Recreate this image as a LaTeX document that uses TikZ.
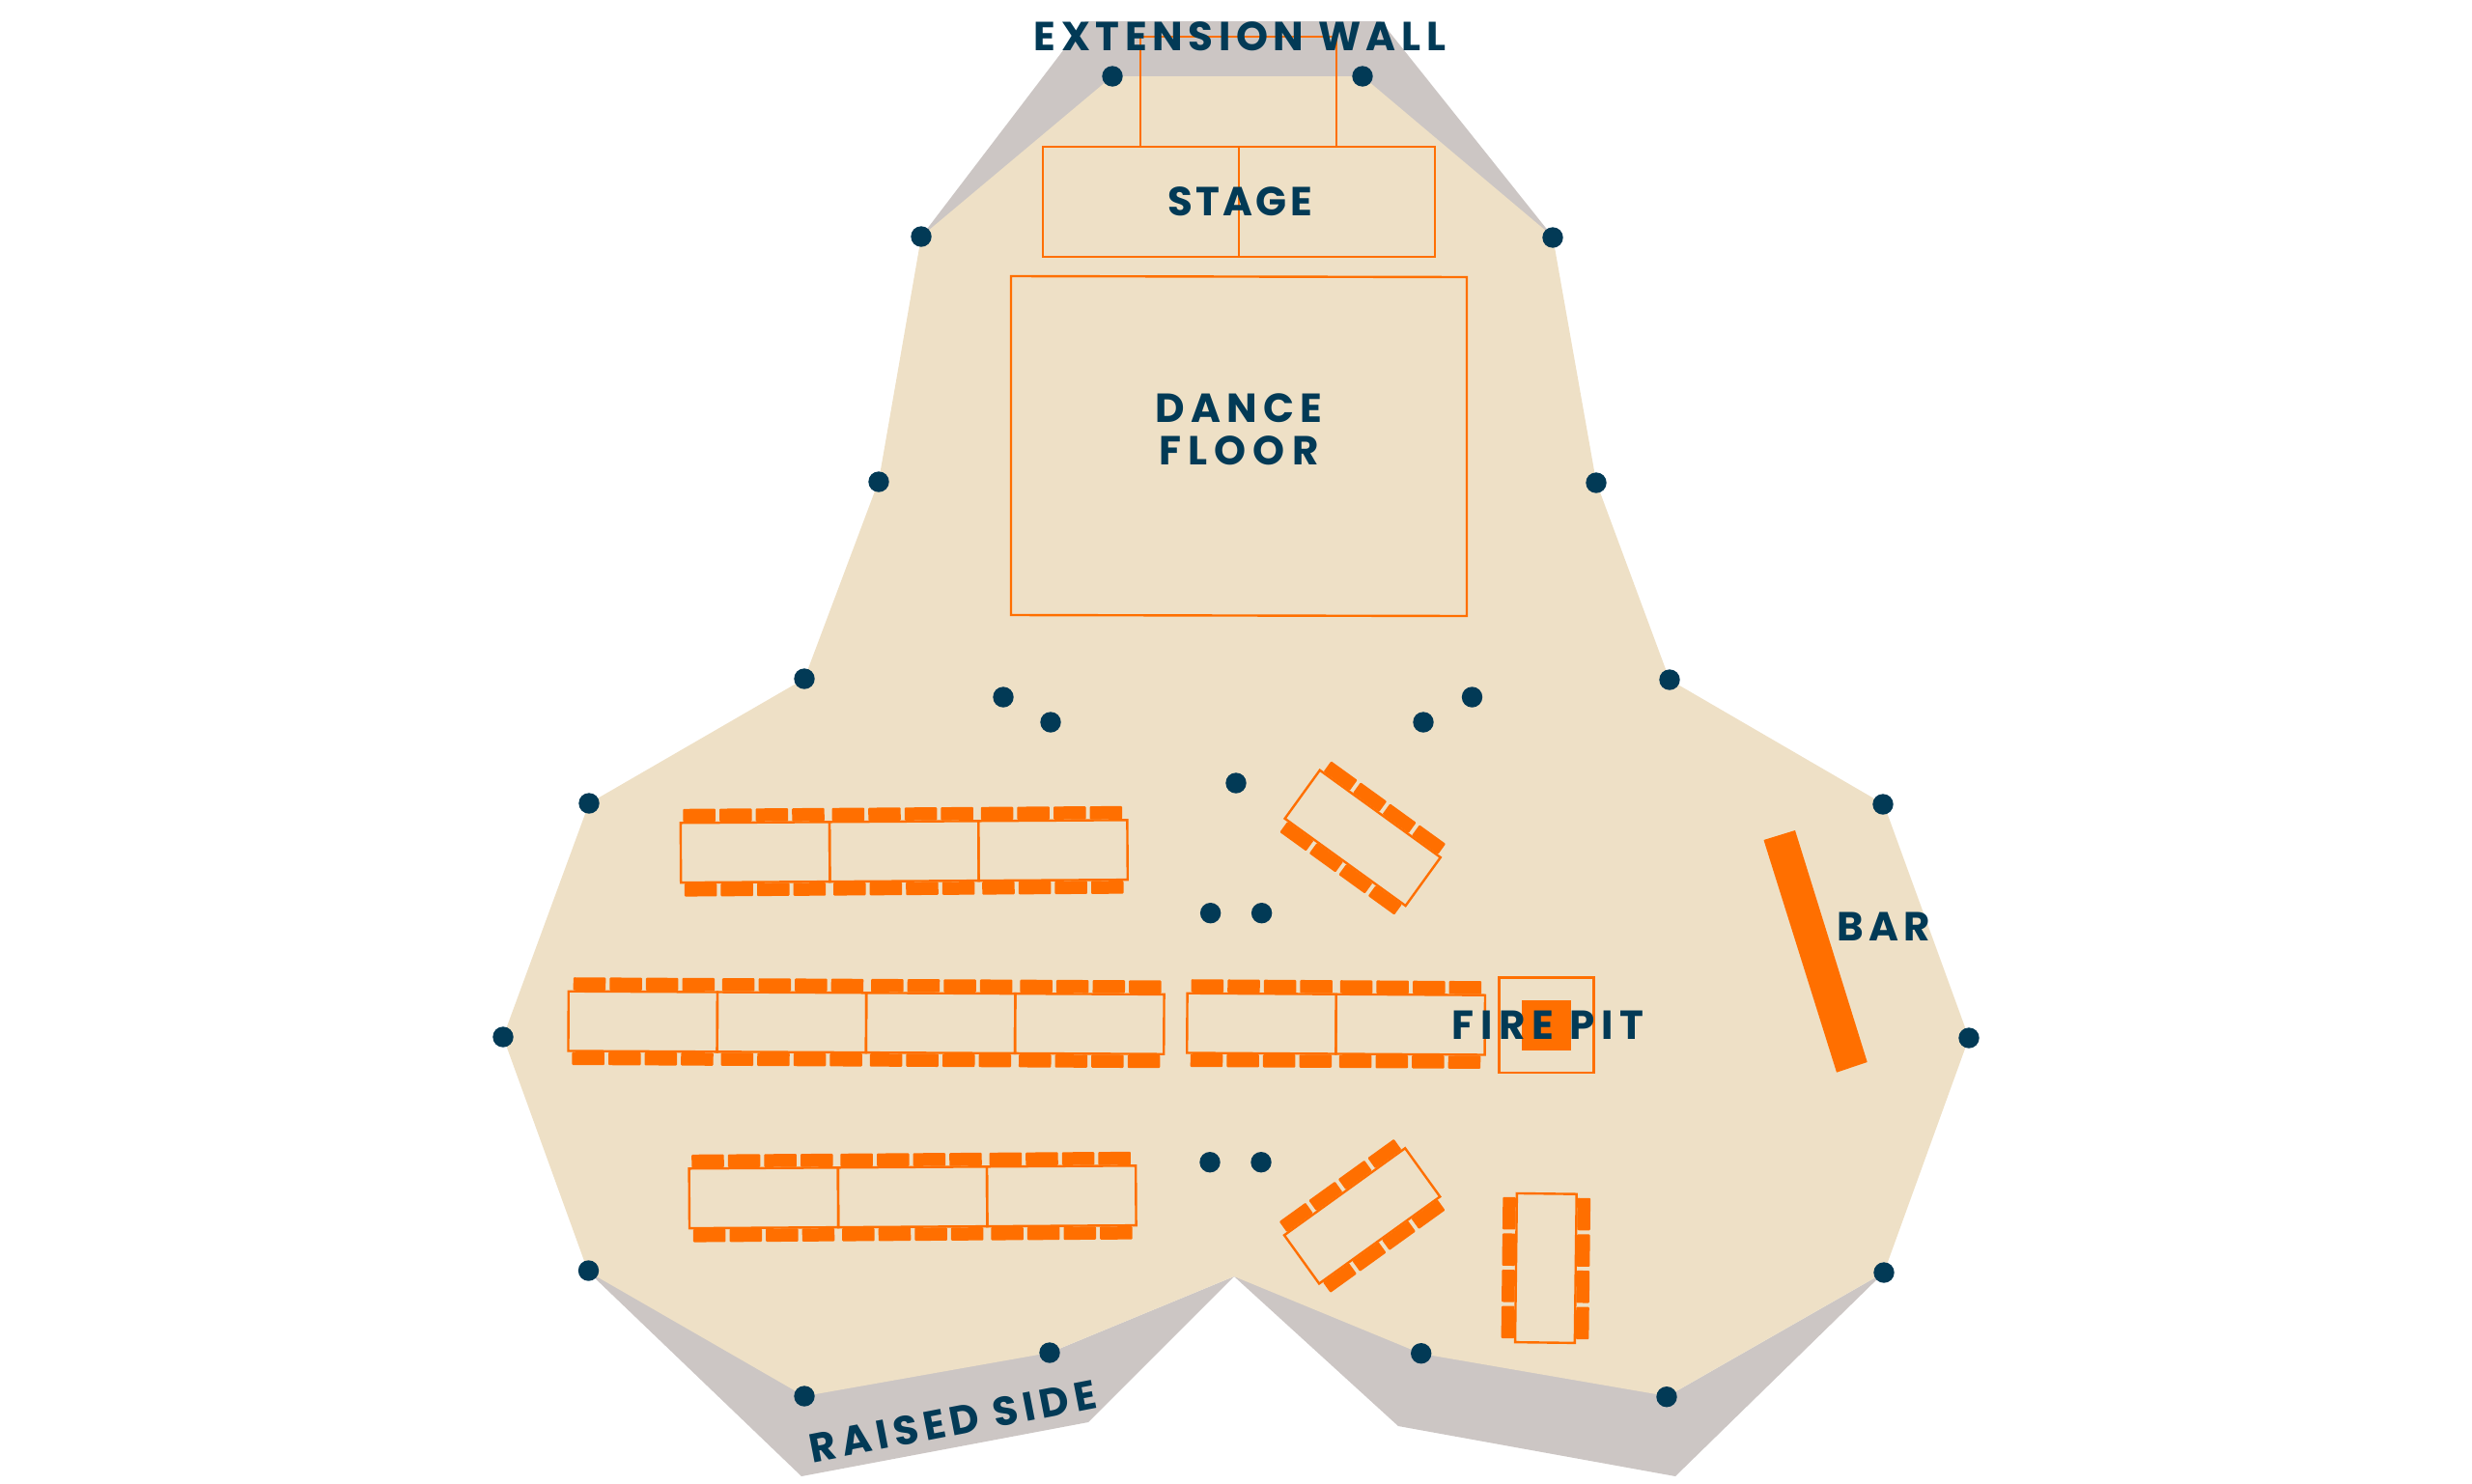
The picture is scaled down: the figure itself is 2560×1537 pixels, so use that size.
\documentclass[tikz,border=0pt]{standalone}
\usepackage{fontspec}
\newfontfamily\labfont[BoldFont={Poppins Bold}]{Poppins}
\definecolor{floorbeige}{HTML}{EEE0C6}
\definecolor{wallgray}{HTML}{CCC6C4}
\definecolor{planorange}{HTML}{FF6F00}
\definecolor{navy}{HTML}{023A56}
\newcommand{\track}[1]{\addfontfeature{LetterSpace=#1}}
\tikzset{
  pillar/.style={circle,fill=navy,draw=none,minimum size=21.4pt,inner sep=0pt},
  outline/.style={draw=planorange,line width=2.4pt,line join=miter},
  chair/.style={fill=planorange,draw=none,rounded corners=1pt},
  lab/.style={text=navy,inner sep=0pt,font=\labfont\bfseries\fontsize{42}{44}\selectfont,align=center}
}
% x y angle n topoffset bottomoffset
\newcommand{\tablestrip}[6]{%
  \begin{scope}[shift={(#1,#2)},rotate=#3]
    \foreach \t in {1,...,#4}{
      \pgfmathsetmacro{\tx}{(\t-1)*154.2}
      \draw[outline] (\tx,0) rectangle (\tx+154.2,61.8);
      \foreach \c in {0,1,2,3}{
        \pgfmathsetmacro{\cxa}{\tx+#5+\c*37.6}
        \pgfmathsetmacro{\cxb}{\tx+#6+\c*37.6}
        \fill[chair] (\cxa,-14.5) rectangle (\cxa+33.5,-1);
        \fill[chair] (\cxb,62.8) rectangle (\cxb+33.5,76.3);
      }
    }
  \end{scope}}
\begin{document}
\begin{tikzpicture}[x=1pt,y=-1pt]
\useasboundingbox (0,0) rectangle (2560,1537);
% raised walls
\fill[wallgray] (954,245) -- (1124,22) -- (1430,22) -- (1608,245) -- cycle;
\fill[wallgray] (609,1317) -- (830,1529) -- (1127,1473) -- (1278,1322) -- (1087,1401) -- cycle;
\fill[wallgray] (1278,1322) -- (1448,1477) -- (1735,1529) -- (1951,1318) -- (1727,1446) -- cycle;
% floor
\fill[floorbeige] (1152,79) -- (1411,79) -- (1608,245) -- (1653,499) -- (1729,704) -- (1951,833) -- (2039,1075) -- (1951,1318) -- (1727,1446) -- (1472,1402) -- (1278,1322) -- (1087,1401) -- (833,1446) -- (609,1317) -- (521,1074) -- (610,832) -- (833,703) -- (910,498) -- (954,245) -- cycle;
% stage
\draw[outline] (1181,152) -- (1181,38) -- (1384,38) -- (1384,152);
\draw[outline] (1080,152) rectangle (1486,266);
\draw[outline] (1283,152) -- (1283,266);
% dance floor
\draw[outline] (1047,286) -- (1519,287) -- (1519,638) -- (1047,637) -- cycle;
% tables
\tablestrip{704.8}{852.3}{0.37}{3}{2.7}{3.6}
\tablestrip{588.8}{1026.7}{-0.3}{4}{4.9}{4}
\tablestrip{713.6}{1210.3}{0.37}{3}{2.7}{3.9}
\tablestrip{1229.6}{1028.7}{-0.37}{2}{4}{3.6}
\tablestrip{1366.8}{797.7}{-35.85}{1}{4}{4}
\tablestrip{1330}{1279.3}{35.75}{1}{4}{4}
\tablestrip{1632.7}{1236.7}{-90.7}{1}{4}{4}
% fire pit
\draw[outline] (1552.6,1012.3) rectangle (1650.5,1110.7);
\fill[planorange] (1576,1036.3) rectangle (1627,1088);
% bar
\fill[planorange] (1826.5,870) -- (1859,860) -- (1933.7,1100) -- (1902,1110.7) -- cycle;
% pillars
\foreach \n/\x/\y in {a/1152/79,b/1411/79,c/954/245,d/1608/246,e/910/499,f/1653/500,g/833/703,h/1729/704,i/610/832,j/1950/833,k/521/1074,l/2039/1075,m/609.5/1316,n/1951/1318,o/833/1446,p/1726/1446.7,q/1087/1401,r/1471.7/1401.7,s/1039/722,t/1088/748,u/1474/748,v/1524.5/722,w/1280/811,x/1253.6/945.7,y/1306.6/945.7,z/1253/1203.7,zz/1306/1203.7}
  \node[pillar] (p\n) at (\x,\y) {};
% labels
\node[lab] (extlabel) at (1284,37.7) {\track{13.4}EXTENSION WALL};
\node[lab] (stagelabel) at (1284,208.7) {\track{8}STAGE};
\node[lab] (dancelabel) at (1283,445) {\track{15}DANCE\\\track{17}FLOOR};
\node[lab] (firelabel) at (1603,1062) {\track{16}FIRE PIT};
\node[lab] (barlabel) at (1951,960) {\track{12}BAR};
\node[lab,rotate=11] (raisedlabel) at (987,1472) {\track{13.5}RAISED SIDE};
\end{tikzpicture}
\end{document}
